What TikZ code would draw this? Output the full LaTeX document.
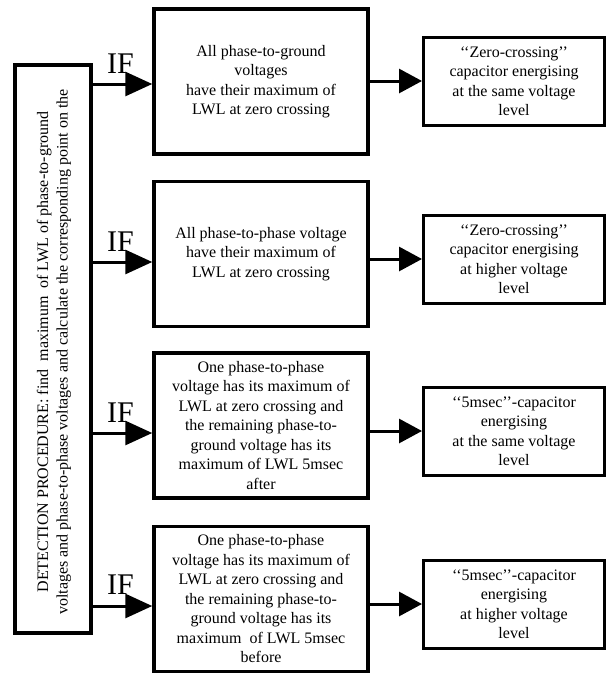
\documentclass[tikz,border=0pt]{standalone}
\usepackage{fontspec}
\setmainfont{Liberation Serif}
\usetikzlibrary{arrows.meta,calc,positioning}

\begin{document}
\begin{tikzpicture}[x=1pt,y=-1pt,
    every node/.style={font=\fontsize{16}{19.5}\selectfont},
    procbox/.style={draw,line width=3.5pt,minimum width=76pt,minimum height=568pt,inner sep=0pt},
    condbox/.style={draw,line width=3.5pt,align=center,minimum width=214pt,minimum height=145pt,inner sep=2pt},
    resultbox/.style={draw,line width=3pt,align=center,minimum width=181pt,minimum height=88pt,inner sep=2pt},
    iflabel/.style={anchor=base west,font=\fontsize{30}{30}\selectfont,inner sep=0pt},
    flowarrow/.style={line width=3pt,-{Triangle[length=27pt,width=24pt]}},
    outarrow/.style={line width=3pt,-{Triangle[length=23pt,width=24pt]}}]
  \useasboundingbox (0,0) rectangle (607,675);

  % detection procedure
  \node[procbox] (proc) at (53,349) {};
  \node[rotate=90,align=center] (proctext) at ($(proc.center)+(1,3)$)
    {DETECTION PROCEDURE: find\ \ maximum\ \ of LWL of phase-to-ground\\
     voltages and phase-to-phase voltages and calculate the corresponding point on the};

  % conditions
  \node[condbox] (cond1) at (261,81.5)
    {All phase-to-ground\\voltages\\have their maximum of\\LWL at zero crossing};
  \node[condbox] (cond2) at (261,254)
    {All phase-to-phase voltage\\have their maximum of\\LWL at zero crossing};
  \node[condbox] (cond3) at (261,425.5)
    {One phase-to-phase\\voltage has its maximum of\\LWL at zero crossing and\\the remaining phase-to-\\ground voltage has its\\maximum of LWL 5msec\\after};
  \node[condbox] (cond4) at (261,599)
    {One phase-to-phase\\voltage has its maximum of\\LWL at zero crossing and\\the remaining phase-to-\\ground voltage has its\\maximum\ \ of LWL 5msec\\before};

  % results
  \node[resultbox] (res1) at (514,81)
    {‘‘Zero-crossing’’\\capacitor energising\\at the same voltage\\level};
  \node[resultbox] (res2) at (514,259)
    {‘‘Zero-crossing’’\\capacitor energising\\at higher voltage\\level};
  \node[resultbox] (res3) at (514,431)
    {‘‘5msec’’-capacitor\\energising\\at the same voltage\\level};
  \node[resultbox] (res4) at (514,604)
    {‘‘5msec’’-capacitor\\energising\\at higher voltage\\level};

  % arrows into the conditions
  \coordinate (in1) at ($(cond1.west)+(0,2.5)$);
  \coordinate (in2) at ($(cond2.west)+(0,8)$);
  \coordinate (in3) at ($(cond3.west)+(0,7.5)$);
  \coordinate (in4) at ($(cond4.west)+(0,7)$);
  \draw[flowarrow] (proc.east |- in1) -- (in1);
  \draw[flowarrow] (proc.east |- in2) -- (in2);
  \draw[flowarrow] (proc.east |- in3) -- (in3);
  \draw[flowarrow] (proc.east |- in4) -- (in4);
  \node[iflabel] (if1) at (107,73) {IF};
  \node[iflabel] (if2) at (107,251) {IF};
  \node[iflabel] (if3) at (107,422) {IF};
  \node[iflabel] (if4) at (107,594) {IF};

  % arrows to the results
  \draw[outarrow] (cond1.east |- res1.west) -- (res1.west);
  \draw[outarrow] (cond2.east |- res2.west) -- (res2.west);
  \draw[outarrow] (cond3.east |- res3.west) -- (res3.west);
  \draw[outarrow] (cond4.east |- res4.west) -- (res4.west);
\end{tikzpicture}
\end{document}
